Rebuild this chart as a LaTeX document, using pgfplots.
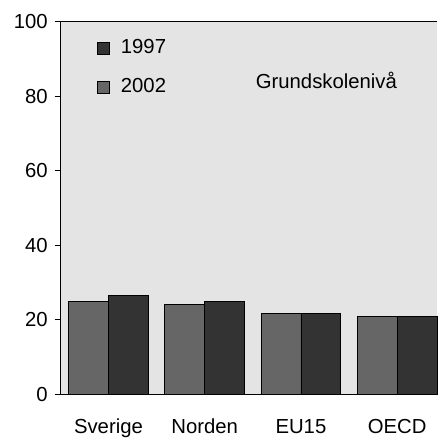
\documentclass[border=0pt]{standalone}
\usepackage{fontspec}
\setmainfont{Liberation Sans}
\usepackage{pgfplots}
\pgfplotsset{compat=1.18}
\definecolor{bg}{HTML}{E4E4E4}
\definecolor{cA}{HTML}{666666}
\definecolor{cB}{HTML}{333333}
\pgfplotsset{sqlegend/.style={legend image code/.code={\draw[##1, draw=black, line width=0.4pt] (0pt,-3pt) rectangle (6pt,3pt); \path (9.5pt,0pt);}}}
\begin{document}
\begin{tikzpicture}[font=\fontsize{10.2}{12}\selectfont]
\begin{axis}[
 scale only axis, width=189pt, height=187pt,
 xmin=-0.496, xmax=3.414, ymin=0, ymax=100,
 clip=false,
 ytick={0,20,...,100}, xtick={0,1,2,3}, xticklabels={Sverige,Norden,EU15,OECD},
 axis x line*=bottom, axis y line*=left,
 axis line style={line width=0.5pt, -},
 ybar=0pt, bar width=20pt,
 axis background/.style={fill=bg},
 tick align=outside, major tick length=3pt,
 xtick style={draw=none},
 ytick style={line width=0.5pt, black},
 /pgf/number format/assume math mode=true,
 tick label style={font=\fontsize{10.2}{12}\selectfont},
 xticklabel style={yshift=-6pt},
 reverse legend,
 legend style={draw=none, fill=none, at={(axis description cs:0.08,0.975)}, anchor=north west, row sep=7pt, font=\fontsize{10.2}{12}\selectfont},
]
\addplot[fill=cA, draw=black, line width=0.4pt, sqlegend] coordinates {(0,25.0) (1,24.0) (2,21.8) (3,20.8)};
\addlegendentry{2002}
\addplot[fill=cB, draw=black, line width=0.4pt, sqlegend] coordinates {(0,26.6) (1,25.0) (2,21.8) (3,20.8)};
\addlegendentry{1997}
\draw[line width=0.5pt] (rel axis cs:0,1) -- (rel axis cs:1,1);
\node at (axis description cs:0.706,0.842) {Grundskolenivå};
\end{axis}
\pgfresetboundingbox
\path (-30.5pt,-21.5pt) rectangle (190pt,198pt);
\end{tikzpicture}
\end{document}
